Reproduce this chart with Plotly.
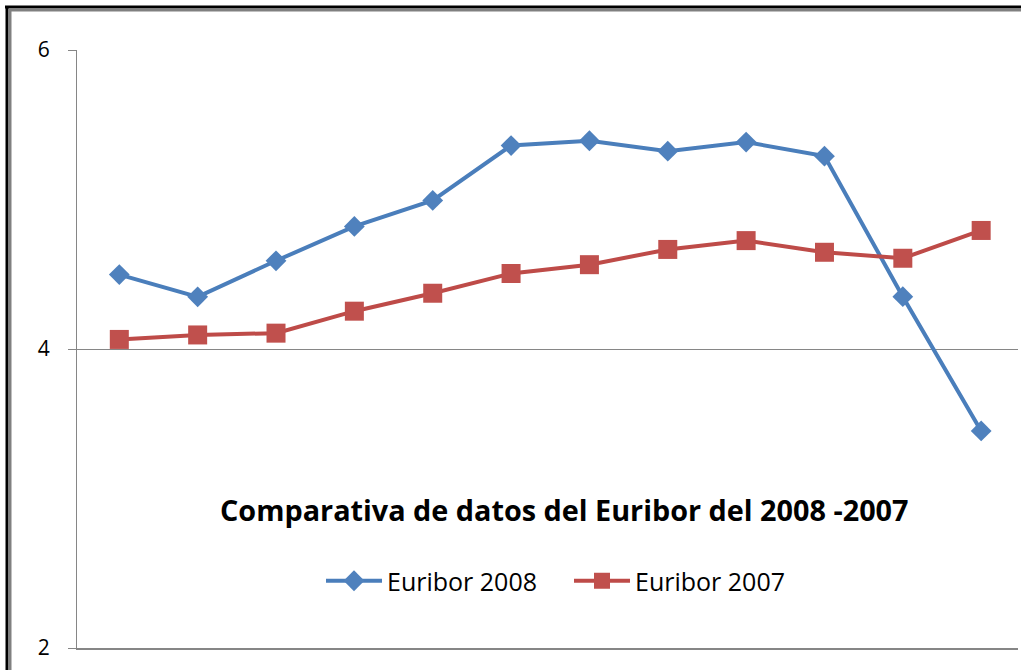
import plotly.graph_objects as go

# Euribor monthly averages
meses = ["Ene", "Feb", "Mar", "Abr", "May", "Jun",
         "Jul", "Ago", "Sep", "Oct", "Nov", "Dic"]
euribor_2008 = [4.498, 4.349, 4.590, 4.820, 4.994, 5.361,
                5.393, 5.323, 5.384, 5.290, 4.350, 3.452]
euribor_2007 = [4.064, 4.094, 4.106, 4.253, 4.373, 4.505,
                4.564, 4.666, 4.725, 4.647, 4.607, 4.793]
y_ticks = [2, 4, 6]
titulo = "Comparativa de datos del Euribor del 2008 -2007"

W, H = 1021, 670
ML, MR, MT, MB = 77, 3, 50, 22
pw = W - ML - MR
ph = H - MT - MB

def px(x):
    return (x - ML) / pw

def py(y):
    return (H - MB - y) / ph

fig = go.Figure()
fig.add_trace(go.Scatter(
    x=meses, y=euribor_2008, name="Euribor 2008", mode="lines+markers",
    line=dict(color="#4A7EBB", width=4),
    marker=dict(symbol="diamond", size=16, color="#4F81BD"),
))
fig.add_trace(go.Scatter(
    x=meses, y=euribor_2007, name="Euribor 2007", mode="lines+markers",
    line=dict(color="#BE4B48", width=4),
    marker=dict(symbol="square", size=19, color="#C0504D"),
))

fig.update_layout(
    width=W, height=H,
    margin=dict(l=ML, r=MR, t=MT, b=MB),
    paper_bgcolor="white", plot_bgcolor="white",
    font=dict(family="Open Sans, sans-serif", color="black"),
    showlegend=True,
    legend=dict(orientation="h", x=px(569), y=py(581), xanchor="center",
                yanchor="middle", font=dict(size=25), itemwidth=56,
                entrywidth=177, bgcolor="rgba(0,0,0,0)"),
    xaxis=dict(range=[-0.54, 11.47], showticklabels=False, showgrid=False,
               showline=True, linecolor="#868686", linewidth=2, ticks="",
               zeroline=False),
    yaxis=dict(range=[2, 6], tickvals=y_ticks, showgrid=True,
               gridcolor="#868686", gridwidth=1, showline=True,
               linecolor="#868686", linewidth=1, ticks="outside", ticklen=8,
               tickcolor="#868686", ticklabelstandoff=14,
               tickfont=dict(size=21), zeroline=False),
    annotations=[dict(text="<b>" + titulo + "</b>", xref="paper", yref="paper",
                      x=px(564), y=py(510), xanchor="center", yanchor="middle",
                      showarrow=False, font=dict(size=28.8))],
    shapes=[
        dict(type="line", xref="paper", yref="paper", x0=px(7), x1=px(7),
             y0=py(7), y1=py(H + 5), line=dict(color="black", width=3)),
        dict(type="line", xref="paper", yref="paper", x0=px(10), x1=px(10),
             y0=py(10), y1=py(H + 5), line=dict(color="#808080", width=3)),
        dict(type="line", xref="paper", yref="paper", x0=px(5), x1=px(W + 5),
             y0=py(7), y1=py(7), line=dict(color="black", width=3)),
        dict(type="line", xref="paper", yref="paper", x0=px(9), x1=px(W + 5),
             y0=py(10), y1=py(10), line=dict(color="#808080", width=3)),
    ],
)

fig.write_html(
    "out.html",
    config={"displayModeBar": False},
    post_script="document.body.style.margin='0';document.body.style.overflow='hidden';",
)
